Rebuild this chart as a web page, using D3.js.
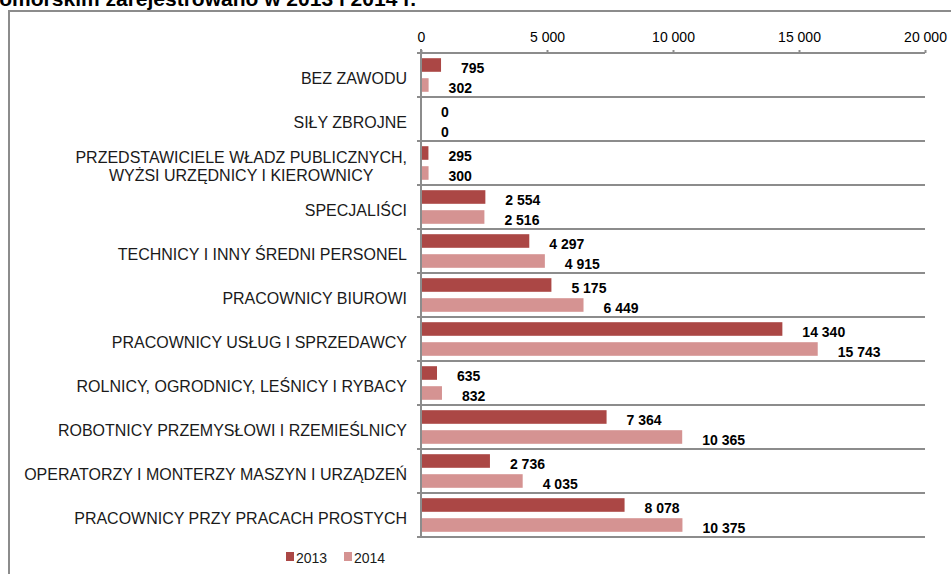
<!DOCTYPE html>
<html>
<head>
<meta charset="utf-8">
<script src="https://cdn.jsdelivr.net/npm/d3@7"></script>
<style>
  body { margin: 0; background: #fff; }
  svg { display: block; font-family: "Liberation Sans", Arial, sans-serif; }
</style>
</head>
<body>
<div class="chart"></div>
<script>
// occupations (top to bottom), values for 2013 and 2014
const categories = [
    'BEZ ZAWODU',
    'SIŁY ZBROJNE',
    'PRZEDSTAWICIELE WŁADZ PUBLICZNYCH,\nWYŻSI URZĘDNICY I KIEROWNICY',
    'SPECJALIŚCI',
    'TECHNICY I INNY ŚREDNI PERSONEL',
    'PRACOWNICY BIUROWI',
    'PRACOWNICY USŁUG I SPRZEDAWCY',
    'ROLNICY, OGRODNICY, LEŚNICY I RYBACY',
    'ROBOTNICY PRZEMYSŁOWI I RZEMIEŚLNICY',
    'OPERATORZY I MONTERZY MASZYN I URZĄDZEŃ',
    'PRACOWNICY PRZY PRACACH PROSTYCH'
];
const values2013 = [795, 0, 295, 2554, 4297, 5175, 14340, 635, 7364, 2736, 8078];
const values2014 = [302, 0, 300, 2516, 4915, 6449, 15743, 832, 10365, 4035, 10375];
const seriesNames = ['2013', '2014'];
const xTicks = [0, 5000, 10000, 15000, 20000];
const titleText = 'zachodniopomorskim zarejestrowano w 2013 i 2014 r.';

const colors = {'2013': '#ab4745', '2014': '#d59392'};

const width = 951;
const height = 574;

const pl = d3.formatLocale({decimal: ',', thousands: ' ', grouping: [3], currency: ['', ' zł']});
const fmt = pl.format(',d');

const svg = d3.select('.chart')
    .append('svg')
    .attr('width', width)
    .attr('height', height);

// title, cut off at the top of the picture
svg.append('text')
    .attr('x', 416)
    .attr('y', 6)
    .attr('text-anchor', 'end')
    .attr('font-size', 21)
    .attr('font-weight', 'bold')
    .text(titleText);

// outer frame (continues outside the picture)
svg.append('path')
    .attr('d', `M9,${height + 5} V11 H${width + 5}`)
    .attr('fill', 'none')
    .attr('stroke', '#8c8c8c')
    .attr('stroke-width', 2);

const x = d3.scaleLinear()
    .domain([0, 20000])
    .range([421, 925]);

const y = d3.scaleBand()
    .domain(categories)
    .range([53, 537]);

const y2 = d3.scaleBand()
    .domain(seriesNames)
    .range([0, y.bandwidth()])
    .paddingInner(0.32)
    .paddingOuter(0.26);

// horizontal separators between categories
const seps = categories.map(c => y(c)).concat([537]);
svg.selectAll('line.sep')
    .data(seps)
    .enter()
    .append('line')
    .attr('class', 'sep')
    .attr('x1', 417)
    .attr('x2', x(20000))
    .attr('y1', d => d)
    .attr('y2', d => d)
    .attr('stroke', '#8c8c8c')
    .attr('stroke-width', 2);

// value axis on top
const xAxis = svg.append('g')
    .attr('transform', 'translate(0,53)')
    .call(d3.axisTop(x).tickValues(xTicks).tickFormat(fmt).tickSize(3).tickPadding(8));
xAxis.select('.domain').remove();
xAxis.selectAll('line').attr('stroke', '#8c8c8c').attr('stroke-width', 2);
xAxis.selectAll('text')
    .attr('font-size', 14)
    .attr('font-family', '"Liberation Sans", Arial, sans-serif')
    .attr('fill', '#000');

// category axis line
svg.append('line')
    .attr('x1', x(0))
    .attr('x2', x(0))
    .attr('y1', 49)
    .attr('y2', 538)
    .attr('stroke', '#8c8c8c')
    .attr('stroke-width', 2);

const rows = categories.map((c, i) => ({cat: c, v: [values2013[i], values2014[i]]}));

const groups = svg.selectAll('g.row')
    .data(rows)
    .enter()
    .append('g')
    .attr('class', 'row')
    .attr('transform', d => `translate(0,${y(d.cat)})`);

groups.selectAll('rect')
    .data(d => d.v.map((v, j) => ({series: seriesNames[j], value: v})))
    .enter()
    .append('rect')
    .attr('x', x(0) + 1)
    .attr('y', d => y2(d.series))
    .attr('width', d => Math.max(0, x(d.value) - x(0) - 1))
    .attr('height', y2.bandwidth())
    .attr('fill', d => colors[d.series]);

groups.selectAll('text.val')
    .data(d => d.v.map((v, j) => ({series: seriesNames[j], value: v})))
    .enter()
    .append('text')
    .attr('class', 'val')
    .attr('x', d => x(d.value) + 20)
    .attr('y', d => y2(d.series) + y2.bandwidth() / 2 + 8)
    .attr('font-size', 14)
    .attr('font-weight', 'bold')
    .attr('fill', '#000')
    .text(d => fmt(d.value));

// category labels, multi-line ones centred on their own block
groups.each(function(d) {
    const lines = d.cat.split('\n');
    const g = d3.select(this);
    const t = g.append('text')
        .attr('font-size', 16)
        .attr('fill', '#1a1a1a');
    const lh = 18;
    const top = y.bandwidth() / 2 + 3 - (lines.length - 1) * lh / 2 + 5.5;
    lines.forEach((ln, k) => {
        t.append('tspan')
            .attr('y', top + k * lh)
            .text(ln);
    });
    // right align the block at 407, centre lines inside it
    const widths = [];
    t.selectAll('tspan').each(function() { widths.push(this.getComputedTextLength()); });
    const w = d3.max(widths);
    t.selectAll('tspan')
        .attr('text-anchor', 'middle')
        .attr('x', 407 - w / 2);
});

// legend
const legend = svg.append('g')
    .attr('transform', 'translate(286,552)');
legend.selectAll('rect')
    .data(seriesNames)
    .enter()
    .append('rect')
    .attr('x', (d, i) => i * 58)
    .attr('y', 0)
    .attr('width', 8)
    .attr('height', 9)
    .attr('fill', d => colors[d]);
legend.selectAll('text')
    .data(seriesNames)
    .enter()
    .append('text')
    .attr('x', (d, i) => i * 58 + 10)
    .attr('y', 10.5)
    .attr('font-size', 14)
    .attr('fill', '#1a1a1a')
    .text(d => d);
</script>
</body>
</html>
